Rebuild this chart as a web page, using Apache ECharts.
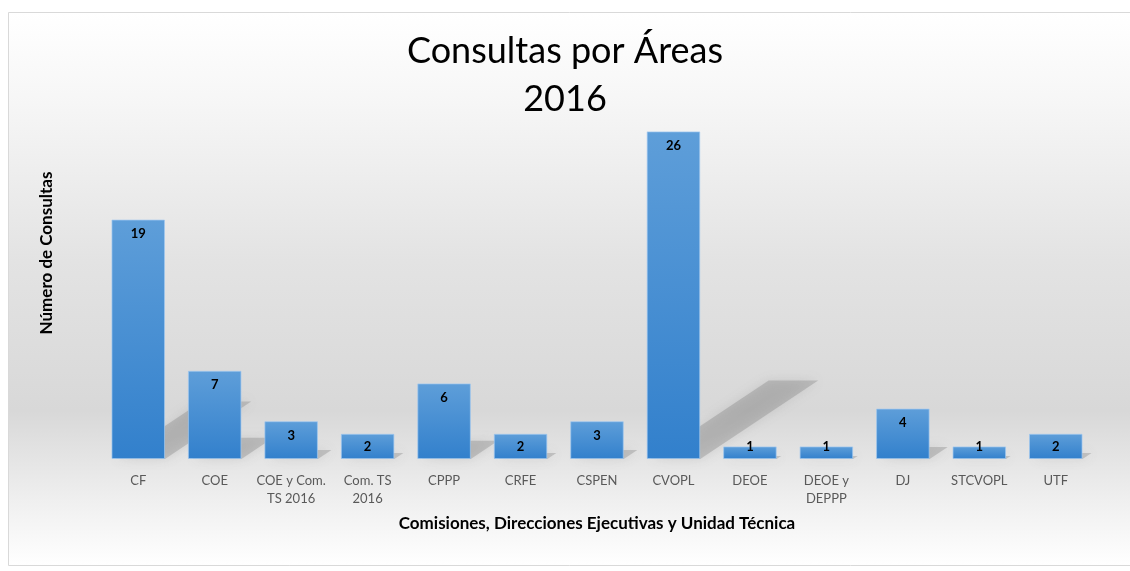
<!DOCTYPE html>
<html><head><meta charset="utf-8">
<script src="https://cdn.jsdelivr.net/npm/echarts@6/dist/echarts.min.js"></script>
<style>html,body{margin:0;padding:0;background:#fff}#c{width:1130px;height:571px}</style>
</head><body><div id="c"></div>
<script>
const categories = ['CF','COE','COE y Com.\nTS 2016','Com. TS\n2016','CPPP','CRFE','CSPEN','CVOPL','DEOE','DEOE y\nDEPPP','DJ','STCVOPL','UTF'];
const values = [19,7,3,2,6,2,3,26,1,1,4,1,2];
const titleText = 'Consultas por Áreas\n2016';
const yName = 'Número de Consultas';
const xName = 'Comisiones, Direcciones Ejecutivas y Unidad Técnica';

const FONT = 'Lato, "Open Sans", sans-serif';
const chart = echarts.init(document.getElementById('c'));

function labelFor(v){
  if (v >= 3) return {position:'insideTop', distance:8};
  if (v === 2) return {position:'inside'};
  return {position:'top', distance:-7};
}

chart.setOption({
  animation:false,
  graphic:[
    {type:'rect', z:-10, silent:true, shape:{x:8.5,y:12.5,width:1125,height:553},
     style:{stroke:'#d9d9d9', lineWidth:1,
       fill:new echarts.graphic.LinearGradient(0,0,0,1,[
         {offset:0,color:'#ffffff'},{offset:0.15,color:'#f7f7f7'},
         {offset:0.45,color:'#e3e3e3'},{offset:0.72,color:'#d8d8d8'},
         {offset:0.88,color:'#efefef'},{offset:1,color:'#ffffff'}])}},
    {type:'text', silent:true, rotation:Math.PI/2,
     x:47, y:253, style:{text:yName, font:'bold 17px '+FONT, fill:'#000', align:'center', verticalAlign:'middle'}}
  ],
  title:{text:titleText, left:'center', top:22,
    textStyle:{fontFamily:FONT, fontSize:36, fontWeight:'normal', color:'#000', lineHeight:48}},
  grid:{left:100, right:36, top:81, bottom:112},
  xAxis:{type:'category', data:categories,
    name:xName, nameLocation:'middle', nameGap:56,
    nameTextStyle:{fontFamily:FONT, fontSize:17, fontWeight:'bold', color:'#000'},
    axisLine:{show:false}, axisTick:{show:false},
    axisLabel:{fontFamily:FONT, fontSize:13, color:'#595959', lineHeight:18, margin:13, interval:0}},
  yAxis:{type:'value', min:0, max:30, interval:5,
    axisLine:{show:false}, axisTick:{show:false}, axisLabel:{show:false}, splitLine:{show:false}},
  series:[
    {type:'custom', z:1, silent:true,
     data:values.map((v,i)=>[i,v]),
     renderItem:function(params, api){
       const i = api.value(0), v = api.value(1);
       const base = api.coord([i,0]), top = api.coord([i,v]);
       const h = base[1]-top[1];
       const w = api.size([1,0])[0]*0.7;
       const dx = 0.36*h, dy = 0.24*h;
       const x0 = base[0]-w/2+4, x1 = base[0]+w/2, y0 = base[1];
       return {type:'polygon',
         shape:{points:[[x0,y0],[x1,y0],[x1+dx,y0-dy],[x0+dx,y0-dy]]},
         style:{fill:'rgba(120,120,120,0.32)', shadowBlur:12, shadowColor:'rgba(120,120,120,0.6)'}};
     }},
    {type:'bar', z:2, data:values.map(v=>({value:v, label:labelFor(v)})), barWidth:'70%',
     itemStyle:{borderColor:'rgba(160,200,240,0.7)', borderWidth:1,
       color:new echarts.graphic.LinearGradient(0,0,0,1,[
         {offset:0,color:'#5e9ed9'},{offset:1,color:'#3280cc'}])},
     label:{show:true, fontFamily:FONT, fontSize:13, fontWeight:'bold', color:'#000'}}
  ]
});
</script></body></html>
